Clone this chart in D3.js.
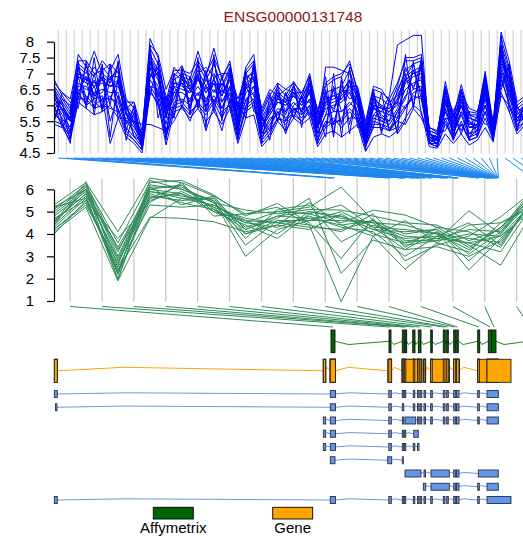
<!DOCTYPE html>
<html><head><meta charset="utf-8">
<script src="https://cdn.jsdelivr.net/npm/d3@7"></script>
<style>body{margin:0;background:#fff} svg{display:block;font-family:"Liberation Sans",Arial,sans-serif}</style>
</head><body><svg id="c" width="523" height="537"></svg>
<script>
const title = "ENSG00000131748";
const topTicks = [4.5,5,5.5,6,6.5,7,7.5,8];
const midTicks = [1,2,3,4,5,6];

// exon-level expression (60 probes, one array per sample)
const topSeries = [
[6.8,6.3,5.9,7.6,7.2,6.9,7.4,7.1,7.6,6.2,5.9,5.0,8.1,7.5,6.1,7.2,6.9,6.8,7.7,6.9,7.8,6.8,7.4,5.9,7.2,7.6,5.6,6.1,6.6,6.3,6.75,6.3,7.0,5.8,6.6,6.8,6.9,7.4,6.4,5.2,6.3,6.2,6.0,6.6,7.5,7.5,7.6,5.2,5.1,6.75,5.6,6.65,5.7,5.6,7.07,5.4,8.3,7.4,6.1,6.3],
[5.4,5.3,4.9,6.1,5.9,5.7,5.8,6.0,5.6,5.0,4.8,4.5,6.4,6.1,4.75,5.8,5.9,5.6,5.9,5.5,5.8,5.4,5.9,4.8,5.6,5.7,4.7,5.0,5.5,5.2,5.6,5.4,5.6,4.7,5.1,5.2,5.0,5.2,5.4,4.55,5.0,5.1,5.0,5.2,5.6,6.0,5.8,4.7,4.65,5.1,4.8,5.1,4.75,4.9,5.3,4.85,6.4,5.8,5.1,5.4],
[5.9,5.6,5.2,6.4,6.0,6.2,6.3,4.8,5.6,5.6,5.5,5.4,5.4,5.3,5.2,5.5,6.0,5.5,6.2,5.2,6.0,5.2,6.2,5.1,5.8,6.0,5.0,5.3,5.8,5.1,5.9,5.6,6.0,5.0,5.4,5.6,5.3,5.6,5.6,4.8,5.5,5.4,5.3,5.5,5.4,5.9,5.6,5.0,4.9,5.6,5.0,5.4,5.0,5.2,5.8,5.0,6.3,6.0,5.5,5.6],
[6.2,5.9,5.5,7.0,6.9,6.6,6.8,6.6,6.7,5.7,5.3,4.9,7.3,6.9,5.6,6.7,6.6,6.4,6.9,6.4,6.8,6.3,6.9,5.4,6.6,6.9,5.3,5.7,6.1,6.0,6.3,6.0,6.4,5.3,6.0,6.1,6.2,6.5,6.0,5.0,5.9,5.8,6.3,7.9,8.05,8.2,8.2,4.9,4.9,6.1,5.3,6.0,5.3,5.4,6.4,5.1,7.4,6.7,5.6,5.9],
[6.1,5.7,5.3,6.7,6.5,6.4,6.5,6.4,6.4,5.5,5.2,4.7,7.0,6.6,5.4,6.4,6.4,6.2,6.6,6.2,6.5,6.1,6.6,5.3,6.4,6.6,5.1,5.5,5.9,5.8,6.1,5.8,6.2,5.1,7.2,7.2,7.1,7.0,6.2,4.9,5.7,5.6,5.5,5.9,6.5,6.7,6.8,4.9,4.8,5.9,5.2,5.8,5.1,5.2,6.2,5.0,7.2,6.5,5.5,5.7],
[6.5,6.1,5.7,7.2,7.0,7.7,7.0,6.8,7.1,5.9,5.6,5.0,7.6,7.1,5.8,6.9,7.25,6.6,7.1,6.6,7.0,6.5,7.1,5.6,6.8,7.1,5.4,5.8,6.3,6.1,6.5,6.1,6.6,5.4,6.2,6.3,6.4,6.8,6.2,5.0,6.0,5.9,5.8,6.2,6.9,7.1,7.2,5.0,5.0,6.3,5.4,6.2,5.4,5.4,6.6,5.2,7.6,6.9,5.7,6.0],
[5.7,5.5,5.1,6.5,6.3,6.0,6.2,6.2,6.1,5.3,5.0,4.7,6.8,6.4,5.2,6.1,6.2,6.0,6.4,6.0,6.3,5.9,6.4,5.2,6.2,6.4,5.0,5.4,5.8,5.6,5.9,5.7,6.0,5.1,5.7,5.8,5.8,6.1,5.8,4.8,5.6,5.5,5.4,5.8,6.3,6.5,6.6,4.8,4.8,5.8,5.1,5.7,5.0,5.1,6.0,5.0,7.0,6.3,5.4,5.6],
[6.3,6.0,5.6,6.9,6.7,6.6,6.7,6.6,6.6,5.8,5.4,4.9,7.2,6.8,5.7,6.6,6.5,6.4,6.8,6.4,6.7,6.3,6.8,5.5,6.5,6.8,5.3,5.7,6.1,6.0,6.3,6.0,6.4,5.3,5.9,6.0,6.1,6.4,6.0,5.0,5.9,5.8,5.7,6.1,6.7,6.9,7.0,5.0,4.95,6.1,5.3,6.0,5.3,5.3,6.4,5.1,7.5,6.7,5.6,5.9],
[5.8,5.4,5.0,6.3,6.1,6.8,6.1,6.3,5.9,5.2,4.9,4.6,6.6,6.2,5.0,6.0,6.1,5.8,6.0,5.7,6.1,5.6,6.1,4.9,5.9,6.1,4.8,5.1,5.6,5.4,5.7,5.5,5.8,4.8,5.3,5.5,5.5,5.8,5.5,4.7,5.3,5.3,5.2,5.6,6.0,6.2,6.3,4.8,4.7,5.5,4.9,5.5,4.9,5.0,5.6,4.9,6.8,6.1,5.3,5.5],
[6.6,6.2,5.8,7.3,7.1,6.3,7.2,6.9,6.9,6.0,5.7,5.1,7.8,7.3,6.0,7.0,6.8,6.7,7.3,6.8,7.3,6.6,7.2,5.8,7.0,7.3,5.5,6.0,6.4,6.2,6.6,6.2,6.8,5.6,6.4,6.5,6.6,7.1,6.3,5.1,6.2,6.0,5.9,6.4,7.1,7.3,7.4,5.1,5.0,6.5,5.5,6.4,5.6,5.5,6.8,5.3,7.9,7.1,5.9,6.1],
[5.8,5.9,4.9,7.2,6.2,6.6,5.9,6.2,6.8,5.8,5.0,4.9,6.9,7.0,5.1,6.6,6.1,6.5,6.1,6.6,6.1,6.5,6.2,5.6,6.1,6.6,5.6,5.2,6.3,5.7,6.4,5.8,6.7,5.1,5.7,6.5,5.4,6.8,5.7,5.0,5.7,6.0,5.2,5.8,6.2,7.1,6.4,4.8,5.0,5.9,5.2,6.0,5.1,5.4,6.5,5.0,7.3,6.7,5.3,5.9],
[6.4,6.0,5.5,7.1,6.8,7.2,6.9,6.7,7.3,5.9,5.5,5.0,7.5,7.0,5.9,6.8,7.0,6.5,7.0,7.2,6.9,7.0,7.0,6.2,6.9,7.0,5.9,6.5,6.3,6.5,6.4,6.4,6.5,5.9,6.1,6.2,6.3,6.6,6.6,5.5,6.6,6.5,6.1,6.3,6.8,7.0,7.1,5.3,5.2,6.4,5.8,6.4,5.9,5.8,6.6,5.5,7.7,7.0,5.8,6.0],
[6.3,5.5,5.6,6.6,6.6,6.2,6.9,5.5,6.3,5.4,5.9,4.7,7.2,6.2,5.9,6.2,6.9,5.9,6.9,6.1,6.7,5.9,6.6,5.3,6.6,6.1,5.1,5.6,5.7,6.2,5.9,5.9,6.2,5.3,6.1,5.9,6.5,6.4,5.8,4.9,6.0,5.5,5.7,5.6,6.8,6.6,6.9,5.0,4.8,6.2,5.1,5.8,5.5,5.2,6.3,5.2,7.1,6.4,5.6,5.7],
[5.5,5.4,5.0,6.2,6.2,5.9,6.0,5.9,5.8,5.1,4.9,4.6,6.5,6.0,5.0,5.9,6.0,5.7,6.1,5.8,6.2,5.8,6.0,5.0,6.0,6.2,4.9,5.2,5.6,5.5,5.8,5.5,5.9,4.9,5.5,5.4,5.6,5.9,5.6,4.7,5.4,5.4,5.2,5.5,5.9,6.3,6.2,4.8,4.7,5.4,5.0,5.4,4.9,5.0,5.8,4.9,6.9,6.0,5.2,5.5],
[6.7,6.4,6.2,7.4,7.4,7.0,7.1,7.3,7.0,6.1,6.1,5.2,7.9,7.6,6.5,7.1,7.1,7.0,7.4,7.0,7.5,6.9,7.3,6.0,7.1,7.4,5.7,6.3,6.7,6.5,6.7,6.4,6.9,5.7,6.7,6.9,7.0,7.3,6.5,5.3,6.5,6.4,6.2,6.7,7.4,7.4,7.5,5.2,5.1,6.6,5.7,6.5,5.7,5.7,6.9,5.4,8.1,7.2,6.0,6.2],
[6.2,5.9,5.6,6.9,6.8,6.7,6.8,6.6,6.8,5.7,5.5,4.9,7.4,6.9,5.6,6.7,6.7,6.5,6.9,6.5,6.8,6.4,6.8,5.6,6.7,6.9,5.4,5.8,6.2,6.1,6.4,6.1,6.5,5.4,6.1,6.3,6.2,6.6,6.1,5.0,6.0,5.9,5.8,6.2,6.8,7.0,7.1,5.1,5.0,6.2,5.4,6.1,5.3,5.4,6.5,5.2,7.6,6.8,5.7,5.9],
[5.6,6.2,6.0,6.2,7.3,6.1,5.9,7.3,5.8,5.9,6.1,4.7,6.9,7.2,6.3,5.6,7.0,6.9,6.0,7.1,6.0,6.9,6.1,6.1,5.6,7.3,5.8,6.4,5.5,6.4,5.6,6.3,5.7,5.8,6.9,5.1,6.8,5.4,6.5,5.4,5.3,6.4,5.2,5.3,6.9,7.3,6.2,5.3,5.15,5.2,5.75,5.2,5.8,5.75,5.4,5.45,6.6,7.3,5.2,6.2],
[6.6,5.4,4.8,7.4,5.9,7.5,5.8,6.8,7.2,5.2,6.0,4.6,7.9,5.6,6.3,5.6,7.2,5.7,7.5,5.3,7.6,5.5,7.2,5.0,7.1,5.8,5.7,4.9,6.7,5.2,6.7,5.3,6.9,4.8,6.4,5.0,6.9,5.1,6.5,4.6,6.4,5.1,6.2,5.1,7.6,5.9,7.5,4.8,5.0,6.6,4.9,6.5,4.9,5.7,7.0,4.9,8.2,5.8,6.0,5.4],
[5.5,6.4,6.1,5.9,7.4,5.7,7.3,5.0,6.9,6.1,5.0,5.2,6.3,7.4,4.9,7.0,5.9,6.9,5.9,7.0,5.8,6.9,5.9,6.0,5.6,7.4,4.8,6.3,5.5,6.4,5.6,6.3,5.6,5.8,5.0,7.0,5.0,7.2,5.3,5.4,6.5,5.2,6.2,5.1,5.5,7.4,5.7,5.2,4.7,6.0,5.7,5.1,5.8,5.0,6.9,5.3,6.5,7.2,5.2,6.2],
[6.0,5.3,5.8,6.9,6.0,7.0,5.9,7.2,5.6,6.0,5.4,4.7,7.7,6.0,6.0,5.9,7.1,5.9,7.3,5.9,7.4,6.1,6.5,5.9,5.9,7.2,5.2,6.0,6.5,5.5,6.0,6.2,6.7,5.5,6.5,5.4,6.4,6.8,5.5,5.1,6.1,5.7,5.5,6.5,7.0,6.0,7.3,4.9,5.1,6.5,5.0,6.3,5.5,5.3,6.8,5.2,7.8,6.2,5.8,5.5],
[5.9,6.1,5.1,7.0,6.8,5.9,7.1,6.0,7.4,4.9,5.8,4.9,6.6,6.5,5.7,6.2,6.8,6.6,6.3,6.8,6.4,6.7,6.3,5.7,6.7,6.3,5.5,5.8,6.2,6.1,5.8,6.1,6.1,5.6,5.3,6.6,5.8,6.0,6.3,4.8,6.3,5.9,5.9,6.1,5.9,6.4,6.5,5.1,4.9,5.6,5.5,6.0,5.6,5.5,6.0,5.1,7.0,6.9,5.5,6.0],
[6.4,5.8,5.5,6.4,6.9,6.3,6.4,6.9,6.2,5.5,5.7,4.8,7.4,6.3,6.2,6.4,6.7,6.1,7.0,5.8,6.9,5.6,7.0,5.5,6.9,6.8,5.3,5.9,6.4,5.8,6.6,5.7,6.5,5.4,6.3,5.8,6.6,6.2,6.3,5.2,6.2,5.6,5.8,6.0,7.2,6.5,7.4,5.1,4.9,6.4,5.6,6.2,5.4,5.6,6.7,5.3,7.9,6.5,5.9,5.8]
];

// Affymetrix probe-set level expression (16 positions)
const midSeries = [
[4.1,5.2,1.9,4.7,5.6,5.3,4.6,4.5,4.7,4.8,4.2,3.8,3.9,3.6,3.9,5.4],
[5.3,6.3,4.1,6.5,6.3,5.7,4.9,5.0,5.2,6.1,4.6,4.0,4.2,3.4,4.3,5.8],
[4.5,6.0,2.6,6.2,6.0,5.4,4.3,4.8,5.0,4.7,4.5,3.5,3.7,5.04,4.0,5.6],
[4.8,5.9,3.4,5.9,5.7,5.5,3.0,4.2,4.6,5.0,4.3,4.2,4.0,3.8,3.6,5.5],
[4.3,5.6,2.2,5.5,5.9,5.2,4.0,4.6,4.4,0.97,3.9,2.42,3.6,3.2,4.5,5.3],
[5.0,6.1,3.0,6.0,5.8,5.0,4.4,3.8,4.9,4.5,5.07,4.85,4.3,3.5,2.6,5.0],
[4.6,5.8,2.8,5.7,5.5,5.6,3.8,5.1,5.3,3.65,4.4,3.9,3.8,4.2,4.1,5.7],
[4.2,5.4,2.4,4.75,4.7,4.55,4.1,4.4,4.2,4.9,4.0,3.6,4.1,2.39,3.8,5.2],
[5.1,6.2,3.6,6.3,6.4,5.75,4.8,5.37,4.5,2.9,4.7,2.8,3.5,3.9,4.77,5.9],
[4.4,5.7,2.0,5.8,5.4,5.1,4.2,4.7,5.6,2.24,3.73,3.3,3.43,3.0,3.7,5.4],
[4.9,6.0,3.2,6.1,6.1,5.4,5.07,4.9,5.1,5.07,4.8,4.5,4.4,3.7,4.2,6.0],
[4.7,5.5,2.5,5.3,5.2,5.3,4.5,4.3,4.8,4.3,4.1,3.0,3.9,4.5,3.5,5.5],
[4.5,6.34,2.2,6.4,6.0,5.5,3.5,4.6,4.6,4.6,4.5,4.4,4.0,3.3,4.3,5.6],
[4.2,5.3,2.7,5.6,5.8,5.2,4.7,4.5,4.3,4.2,4.6,3.7,3.7,4.0,3.9,5.1],
[5.2,6.0,1.95,6.0,6.2,5.0,4.6,4.0,5.0,4.8,4.2,4.1,4.2,2.8,4.0,5.8],
[4.6,5.8,2.9,5.9,5.6,5.6,4.2,4.8,4.7,4.4,4.6,3.6,3.8,3.6,3.2,5.3],
[4.0,5.5,3.8,5.4,6.3,4.8,4.9,5.2,4.4,4.1,4.9,3.4,4.3,4.1,3.4,5.6],
[5.2,5.6,2.3,6.1,5.3,5.7,4.0,4.4,5.4,4.4,3.9,4.6,3.6,4.4,4.5,5.2],
[4.4,6.2,3.3,5.6,6.2,5.1,4.5,5.0,4.9,5.3,4.3,3.3,4.1,3.1,4.1,5.9]
];

// genomic positions (kb from gene start) of the 59 exon-array probes
const topProbeKb = [13.84,13.95,14.05,16.76,16.84,17.43,17.47,17.54,17.58,17.98,18.02,18.2,18.24,18.32,18.37,18.52,18.56,18.86,18.9,19.48,19.53,19.66,19.7,20.0,20.05,20.1,20.15,20.2,20.24,21.2,21.25,21.66,21.69,21.72,21.75,21.78,21.81,21.84,21.87,21.9,21.93,21.96,21.99,22.02,22.04,22.06,22.08,22.1,22.12,22.14,22.16,22.18,22.19,22.2,22.21,22.22,23.9,24.3,24.8];
// genomic positions (kb) of the 15 Affymetrix probe sets
const affyProbeKb = [13.95,16.8,17.465,17.59,17.99,18.285,18.875,19.515,19.675,20.035,20.175,21.235,21.8,22.0,23.8];
const affyBoxes = [[13.85,14.05],[16.75,16.85],[17.415,17.515],[17.55,17.635],[17.935,18.05],[18.215,18.35],[18.835,18.915],[19.465,19.565],[19.635,19.715],[19.985,20.085],[20.135,20.215],[21.185,21.285],[21.715,21.885],[21.885,22.1],[23.7,23.9]];

// transcripts (exon start/end in kb)
const transcripts = [
[[0.015,0.165],[13.815,14.075],[16.74,16.865],[17.415,17.49],[17.515,17.59],[17.965,18.04],[18.175,18.25],[18.3,18.385],[18.5,18.575],[18.835,18.915],[19.465,19.55],[19.635,19.715],[19.985,20.085],[20.125,20.25],[21.185,21.265],[21.65,22.215]],
[[0.075,0.15],[13.815,14.075],[16.74,16.865],[17.415,17.49],[17.965,18.04],[18.175,18.25],[18.3,18.385],[18.5,18.575],[18.835,18.915],[19.465,19.55],[19.635,19.715],[19.985,20.085],[20.125,20.25],[21.185,21.265],[21.65,22.215]],
[[13.465,13.585],[13.815,14.075],[16.74,16.865],[17.415,17.49],[17.55,18.085],[18.175,18.25],[18.3,18.385],[18.5,18.575],[18.835,18.915],[19.465,19.55],[19.635,19.715],[19.985,20.085],[20.125,20.25],[21.185,21.265],[21.65,22.215]],
[[13.465,13.585],[13.815,14.075],[16.74,16.865],[17.415,17.49],[17.515,17.59],[17.985,18.215]],
[[13.465,13.585],[13.815,14.075],[16.74,16.865],[17.415,17.49],[17.515,17.59],[17.965,18.04],[18.175,18.25]],
[[13.815,14.05],[16.685,16.885],[17.415,17.465]],
[[17.55,18.35],[18.5,18.575],[18.85,19.765],[19.985,20.085],[20.125,20.25],[21.215,22.215]],
[[18.465,18.585],[18.85,19.765],[19.985,20.085],[20.125,20.25],[21.185,21.265],[21.65,22.215]],
[[0.015,0.165],[13.815,14.075],[16.74,16.865],[17.415,17.49],[17.515,17.59],[17.965,18.04],[18.175,18.25],[18.3,18.385],[18.5,18.575],[18.835,18.915],[19.465,19.55],[19.635,19.715],[19.985,20.085],[20.125,20.25],[21.185,21.265],[21.65,22.85]]
];
const legendLabels = ["Affymetrix","Gene"];
const legendColors = ["#006400","#FFA500"];

const svg = d3.select("#c");
const FONT = "'Liberation Sans', Arial, sans-serif";

const xTop = d3.scaleLinear().domain([0,59]).range([54.3,525.1]);
const yTop = d3.scaleLinear().domain([4.5,8]).range([153,41.7]);
const xMid = d3.scaleLinear().domain([0,15]).range([54.1,532.6]);
const yMid = d3.scaleLinear().domain([1,6]).range([301,189.3]);
const xGen = d3.scaleLinear().domain([0,23.45]).range([54,523]);

// title
svg.append("text").attr("x",293).attr("y",22).attr("text-anchor","middle")
  .attr("font-size",15.5).attr("fill","#8b1a1a").attr("font-family",FONT).text(title);

// ---- top panel ----
const nTopGrid = topSeries[0].length - 1;
svg.append("g").selectAll("line").data(d3.range(nTopGrid)).join("line")
  .attr("x1",k=>xTop(k+0.5)).attr("x2",k=>xTop(k+0.5)).attr("y1",30).attr("y2",153.5)
  .attr("stroke","#d2d2d2").attr("stroke-width",1.2);
const lineTop = d3.line().x((d,i)=>xTop(i)).y(d=>yTop(d));
svg.append("g").selectAll("path").data(topSeries).join("path")
  .attr("d",lineTop).attr("fill","none").attr("stroke","#0000ff").attr("stroke-width",1);

function styleAxis(g){
  g.attr("font-family",FONT).attr("font-size",15);
  g.select(".domain").attr("stroke","#000").attr("stroke-width",1.2);
  g.selectAll(".tick line").attr("stroke","#000").attr("stroke-width",1.2);
  g.selectAll(".tick text").attr("x",-24).attr("text-anchor","middle").attr("fill","#000");
}
svg.append("g").attr("transform","translate(54,0)")
  .call(d3.axisLeft(yTop).tickValues(topTicks).tickSize(7).tickSizeOuter(0).tickFormat(d3.format("")))
  .call(styleAxis);

// top connectors
svg.append("g").selectAll("line").data(topProbeKb).join("line")
  .attr("x1",(d,k)=>xTop(k+0.5)).attr("y1",158).attr("x2",d=>xGen(d)).attr("y2",178)
  .attr("stroke","#1e88f0").attr("stroke-width",1);

// ---- middle panel ----
const nMidGrid = midSeries[0].length - 1;
svg.append("g").selectAll("line").data(d3.range(nMidGrid)).join("line")
  .attr("x1",k=>xMid(k+0.5)).attr("x2",k=>xMid(k+0.5)).attr("y1",178.5).attr("y2",301.7)
  .attr("stroke","#c8c8c8").attr("stroke-width",1.3);
const lineMid = d3.line().x((d,i)=>xMid(i)).y(d=>yMid(d));
svg.append("g").selectAll("path").data(midSeries).join("path")
  .attr("d",lineMid).attr("fill","none").attr("stroke","#2e8b57").attr("stroke-width",1);
svg.append("g").attr("transform","translate(54,0)")
  .call(d3.axisLeft(yMid).tickValues(midTicks).tickSize(7).tickSizeOuter(0).tickFormat(d3.format("")))
  .call(styleAxis);

// middle connectors
svg.append("g").selectAll("line").data(affyProbeKb).join("line")
  .attr("x1",(d,k)=>xMid(k+0.5)).attr("y1",306.5).attr("x2",d=>xGen(d)).attr("y2",327)
  .attr("stroke","#2e8b57").attr("stroke-width",1);

// ---- gene structure ----
function introns(g, exons, yc, amp, color, width){
  const s = exons.slice().sort((a,b)=>a[0]-b[0]);
  const merged = [];
  s.forEach(e=>{ if(merged.length && e[0] <= merged[merged.length-1][1]) merged[merged.length-1][1] = Math.max(merged[merged.length-1][1], e[1]); else merged.push([e[0],e[1]]); });
  const segs = [];
  for(let i=0;i<merged.length-1;i++) segs.push([merged[i][1], merged[i+1][0]]);
  g.selectAll(null).data(segs).join("path")
    .attr("d",d=>{const a=xGen(d[0]), b=xGen(d[1]); return `M${a},${yc}L${a+0.25*(b-a)},${yc+amp}L${b},${yc}`;})
    .attr("fill","none").attr("stroke",color).attr("stroke-width",width);
}
function exonBoxes(g, exons, y0, h, fill, stroke){
  g.selectAll(null).data(exons).join("rect")
    .attr("x",d=>xGen(d[0])).attr("width",d=>Math.max(0.8,xGen(d[1])-xGen(d[0])))
    .attr("y",y0).attr("height",h).attr("fill",fill).attr("stroke",stroke).attr("stroke-width",0.9);
}

// Affymetrix row
const gA = svg.append("g");
introns(gA, affyBoxes, 341.3, 3.2, "#228b22", 1);
exonBoxes(gA, affyBoxes, 330, 22.7, "#006400", "#111");

// Gene row (union of transcript exons)
const geneExons = transcripts.flat();
const gG = svg.append("g");
introns(gG, geneExons, 370.8, -3.5, "#ffa500", 1);
exonBoxes(gG, geneExons, 359.3, 23, "#ffa500", "#222");

// transcripts
const rowY = d3.scaleLinear().domain([0,8]).range([394,500]);
transcripts.forEach((t,i)=>{
  const g = svg.append("g");
  const yc = rowY(i);
  introns(g, t, yc, -1.2, "#6a96e6", 1);
  exonBoxes(g, t, yc-3.5, 7, "#6495ed", "#2a2f3a");
});

// legend
const legX = [173.3, 292.7];
const lg = svg.append("g").attr("font-family",FONT);
lg.selectAll("rect").data(legendLabels).join("rect")
  .attr("x",(d,i)=>legX[i]-20).attr("y",507.3).attr("width",40).attr("height",11.7)
  .attr("fill",(d,i)=>legendColors[i]).attr("stroke","#000").attr("stroke-width",0.9);
lg.selectAll("text").data(legendLabels).join("text")
  .attr("x",(d,i)=>legX[i]).attr("y",533).attr("text-anchor","middle").attr("font-size",15)
  .attr("fill","#000").text(d=>d);
</script></body></html>
